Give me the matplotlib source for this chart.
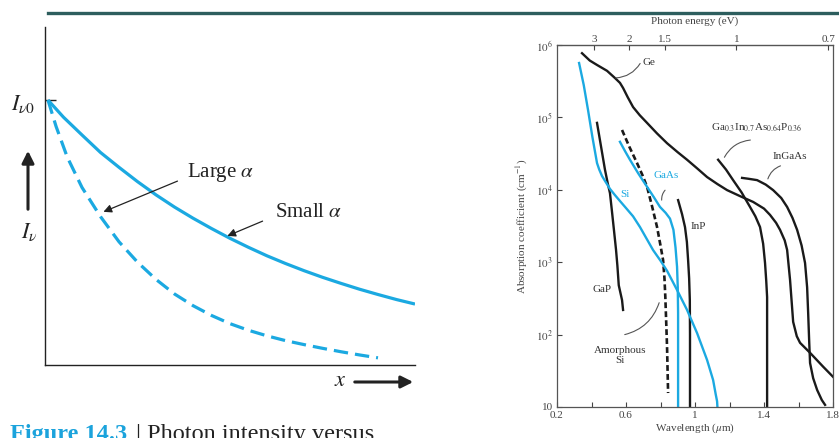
import numpy as np
import matplotlib
matplotlib.use("Agg")
import matplotlib.pyplot as plt
from matplotlib.ticker import FixedLocator, NullLocator

plt.rcParams["font.family"] = ["Liberation Serif", "DejaVu Serif"]
plt.rcParams["mathtext.fontset"] = "stix"

BLUE = "#1ba9e1"
INK = "#222222"
W, H = 839, 438

# left panel: photon intensity vs distance (I / I0)
x_small = [0.008, 0.05, 0.1, 0.15, 0.2, 0.25, 0.3, 0.35, 0.4, 0.45, 0.5, 0.55, 0.6,
           0.65, 0.7, 0.75, 0.8, 0.85, 0.9, 0.95, 1.0]
i_small = [1.0, 0.935, 0.868, 0.802, 0.746, 0.692, 0.642, 0.596, 0.554, 0.515, 0.478,
           0.444, 0.412, 0.383, 0.356, 0.331, 0.308, 0.286, 0.266, 0.247, 0.230]
x_large = [0.008, 0.03, 0.06, 0.1, 0.15, 0.2, 0.25, 0.3, 0.35, 0.4, 0.45, 0.5, 0.55,
           0.6, 0.65, 0.7, 0.75, 0.8, 0.85, 0.9]
i_large = [1.0, 0.90, 0.785, 0.67, 0.56, 0.465, 0.388, 0.323, 0.268, 0.224, 0.187,
           0.156, 0.131, 0.110, 0.092, 0.077, 0.063, 0.050, 0.038, 0.027]

# right panel: absorption coefficient (cm^-1) vs wavelength (um)
ge_wl = [0.345, 0.39, 0.432, 0.49, 0.536, 0.565, 0.583, 0.61, 0.641, 0.68, 0.722, 0.78,
         0.838, 0.9, 0.954, 1.01, 1.07, 1.13, 1.186, 1.26, 1.337, 1.40, 1.435, 1.47,
         1.493, 1.52, 1.534, 1.551, 1.569, 1.59, 1.609, 1.667, 1.743, 1.801]
ge_a = [7.7e5, 6.1e5, 5.3e5, 4.4e5, 3.5e5, 3.0e5, 2.55e5, 1.9e5, 1.39e5, 1.07e5, 8.4e4,
        6.0e4, 4.4e4, 3.3e4, 2.6e4, 2.0e4, 1.5e4, 1.2e4, 9.9e3, 8.2e3, 6.8e3, 5.5e3,
        4.5e3, 3.5e3, 2.8e3, 2.0e3, 1.48e3, 570, 150, 95, 77, 56, 36, 26]
si_wl = [0.328, 0.355, 0.380, 0.405, 0.432, 0.445, 0.461, 0.485, 0.507, 0.535, 0.565,
         0.60, 0.641, 0.681, 0.72, 0.757, 0.80, 0.838, 0.896, 0.954, 1.012, 1.07, 1.105,
         1.12, 1.128, 1.13]
si_a = [5.64e5, 2.8e5, 1.26e5, 5.4e4, 2.34e4, 1.9e4, 1.55e4, 1.25e4, 1.03e4, 8.5e3,
        7.0e3, 5.6e3, 4.3e3, 3.06e3, 2.1e3, 1.47e3, 1.05e3, 760, 413, 219, 105, 44.6,
        23.6, 15, 12, 10]
gaas_wl = [0.565, 0.595, 0.623, 0.67, 0.722, 0.76, 0.797, 0.83, 0.855, 0.875, 0.887,
           0.896, 0.900, 0.902, 0.902]
gaas_a = [4.6e4, 3.4e4, 2.6e4, 1.7e4, 1.1e4, 8.0e3, 5.8e3, 4.8e3, 4.0e3, 2.8e3, 1.6e3,
          860, 450, 200, 10]
asi_wl = [0.577, 0.62, 0.664, 0.695, 0.722, 0.752, 0.780, 0.800, 0.815, 0.823, 0.828,
          0.833, 0.838, 0.844]
asi_a = [6.7e4, 3.9e4, 2.34e4, 1.6e4, 1.1e4, 5.8e3, 3.06e3, 1.7e3, 1.07e3, 600, 330,
         150, 67, 15.6]
gap_wl = [0.432, 0.455, 0.478, 0.495, 0.507, 0.518, 0.530, 0.542, 0.550, 0.558, 0.577,
          0.583]
gap_a = [8.4e4, 4.0e4, 1.9e4, 1.2e4, 9.0e3, 5.2e3, 2.8e3, 1.5e3, 900, 480, 300, 219]
inp_wl = [0.902, 0.925, 0.942, 0.953, 0.960, 0.966, 0.970, 0.971, 0.971]
inp_a = [7.2e3, 4.6e3, 3.06e3, 1.9e3, 1.07e3, 600, 300, 100, 10]
quat_wl = [1.134, 1.18, 1.221, 1.27, 1.319, 1.35, 1.377, 1.395, 1.406, 1.413, 1.418,
           1.418]
quat_a = [2.6e4, 1.9e4, 1.36e4, 9.2e3, 5.8e3, 4.3e3, 3.06e3, 1.8e3, 975, 550, 330, 10]
ingaas_wl = [1.273, 1.31, 1.36, 1.41, 1.453, 1.50, 1.534, 1.565, 1.592, 1.618, 1.638,
             1.650, 1.656, 1.662, 1.667, 1.685, 1.708, 1.735, 1.754]
ingaas_a = [1.46e4, 1.42e4, 1.36e4, 1.18e4, 9.9e3, 7.7e3, 5.8e3, 4.1e3, 2.8e3, 1.7e3,
            975, 450, 199, 80, 40.5, 25, 17.2, 12.5, 10.7]

wl_ticks = [0.2, 0.4, 0.6, 0.8, 1.0, 1.2, 1.4, 1.6, 1.8]
wl_labels = ["0.2", "", "0.6", "", "1", "", "1.4", "", "1.8"]
a_ticks = [10, 1e2, 1e3, 1e4, 1e5, 1e6]
a_labels = ["10", "$10^2$", "$10^3$", "$10^4$", "$10^5$", "$10^6$"]
ev_ticks = [3, 2, 1.5, 1, 0.7]
ev_labels = ["3", "2", "1.5", "1", "0.7"]


def fpos(px, py):
    return px / W, 1 - py / H


fig = plt.figure(figsize=(W / 100, H / 100), dpi=100)

# header rule
fig.add_artist(plt.Line2D([48 / W, 1], [1 - 13 / H] * 2, color="#2d5e5e", lw=2.4))

# ---------------- left panel ----------------
ax1 = fig.add_axes([45 / W, 1 - 365 / H, 370 / W, 338 / H])
ax1.plot(x_small, i_small, color=BLUE, lw=2.3, solid_capstyle="butt")
ax1.plot(x_large, i_large, color=BLUE, lw=2.3, ls=(0, (4.5, 2.2)))
ax1.set_xlim(0, 1)
ax1.set_ylim(0, 338 / 265)
for s in ["top", "right"]:
    ax1.spines[s].set_visible(False)
for s in ["left", "bottom"]:
    ax1.spines[s].set_color(INK)
    ax1.spines[s].set_linewidth(1.0)
ax1.set_xticks([])
ax1.set_yticks([1.0])
ax1.set_yticklabels([])
ax1.tick_params(axis="y", direction="in", length=8, width=1, color=INK)

ax1.text(0.384, 0.725, r"Large $\alpha$", fontsize=15, color=INK, va="center")
ax1.annotate("", xy=(0.151, 0.574), xytext=(0.365, 0.698),
             arrowprops=dict(arrowstyle="-|>", color=INK, lw=0.9, mutation_scale=12))
ax1.text(0.622, 0.574, r"Small $\alpha$", fontsize=15, color=INK, va="center")
ax1.annotate("", xy=(0.486, 0.483), xytext=(0.595, 0.547),
             arrowprops=dict(arrowstyle="-|>", color=INK, lw=0.9, mutation_scale=12))

fig.text(*fpos(23, 104), r"$I_{\nu 0}$", fontsize=16, color=INK, ha="center", va="center")
fig.text(*fpos(29, 232), r"$I_{\nu}$", fontsize=16, color=INK, ha="center", va="center")
fig.text(*fpos(340, 381), r"$x$", fontsize=16, color=INK, ha="center", va="center")
fig.add_artist(matplotlib.patches.FancyArrowPatch(
    fpos(28, 212), fpos(28, 148), transform=fig.transFigure,
    arrowstyle="-|>", mutation_scale=18, lw=2.2, color=INK))
fig.add_artist(matplotlib.patches.FancyArrowPatch(
    fpos(352, 382), fpos(416, 382), transform=fig.transFigure,
    arrowstyle="-|>", mutation_scale=18, lw=2.2, color=INK))

fig.text(10 / W, 1 - 440 / H, "Figure 14.3", fontsize=17.5, fontweight="bold",
         color="#1ba3dc", va="baseline")
fig.text(136 / W, 1 - 440 / H, "| Photon intensity versus", fontsize=17.5,
         color=INK, va="baseline")

# ---------------- right panel ----------------
ax2 = fig.add_axes([557 / W, 1 - 407 / H, 276 / W, 362 / H])
ax2.set_yscale("log")
black = dict(color="#1a1a1a", lw=1.7)
ax2.plot(ge_wl, ge_a, **black)
ax2.plot(gap_wl, gap_a, **black)
ax2.plot(inp_wl, inp_a, **black)
ax2.plot(quat_wl, quat_a, **black)
ax2.plot(ingaas_wl, ingaas_a, **black)
ax2.plot(asi_wl, asi_a, color="#1a1a1a", lw=1.9, ls=(0, (2.2, 1.2)))
ax2.plot(si_wl, si_a, color=BLUE, lw=1.7)
ax2.plot(gaas_wl, gaas_a, color=BLUE, lw=1.7)
ax2.set_xlim(0.2, 1.8)
ax2.set_ylim(10, 1e6)

ax2.xaxis.set_major_locator(FixedLocator(wl_ticks))
ax2.set_xticklabels(wl_labels)
ax2.yaxis.set_major_locator(FixedLocator(a_ticks))
ax2.yaxis.set_minor_locator(NullLocator())
ax2.set_yticklabels(a_labels)
ax2.tick_params(direction="in", length=3.5, width=0.8, labelsize=8, colors="#444444",
                pad=3)
for s in ax2.spines.values():
    s.set_color("#555555")
    s.set_linewidth(0.9)

top = ax2.secondary_xaxis("top")
top.set_xticks([1.24 / e for e in ev_ticks])
top.set_xticklabels(ev_labels)
top.tick_params(direction="in", length=3.5, width=0.8, labelsize=8, colors="#444444", pad=1)
top.set_xlabel("Photon energy (eV)", fontsize=8, color="#444444", labelpad=8)

ax2.set_xlabel(r"Wavelength ($\mu$m)", fontsize=8, color="#444444", labelpad=1)
ax2.set_ylabel(r"Absorption coefficient (cm$^{-1}$)", fontsize=8, color="#444444", labelpad=4)

lab = dict(fontsize=8, color="#333333", ha="center", va="center")
lead = dict(arrowstyle="-", color="#555555", lw=0.8)
ax2.text(0.735, 5.8e5, "Ge", **lab)
ax2.annotate("", xy=(0.525, 3.5e5), xytext=(0.69, 6.0e5),
             arrowprops=dict(connectionstyle="arc3,rad=-0.3", **lead))
ax2.text(1.36, 7.1e4, r"Ga$_{0.3}$In$_{0.7}$As$_{0.64}$P$_{0.36}$", **lab)
ax2.annotate("", xy=(1.163, 2.6e4), xytext=(1.337, 4.9e4),
             arrowprops=dict(connectionstyle="arc3,rad=0.3", **lead))
ax2.text(1.55, 2.9e4, "InGaAs", **lab)
ax2.annotate("", xy=(1.418, 1.3e4), xytext=(1.511, 2.2e4),
             arrowprops=dict(connectionstyle="arc3,rad=0.3", **lead))
ax2.text(0.594, 8.5e3, "Si", fontsize=8, color=BLUE, ha="center", va="center")
ax2.text(0.83, 1.6e4, "GaAs", fontsize=8, color=BLUE, ha="center", va="center")
ax2.annotate("", xy=(0.809, 6.6e3), xytext=(0.838, 1.05e4),
             arrowprops=dict(connectionstyle="arc3,rad=0.3", **lead))
ax2.text(1.018, 3.1e3, "InP", **lab)
ax2.text(0.461, 420, "GaP", **lab)
ax2.text(0.565, 52, "Amorphous\nSi", linespacing=1.1, **lab)
ax2.annotate("", xy=(0.577, 98), xytext=(0.797, 300),
             arrowprops=dict(connectionstyle="arc3,rad=-0.3", **lead))

fig.savefig("out.png", dpi=100)
